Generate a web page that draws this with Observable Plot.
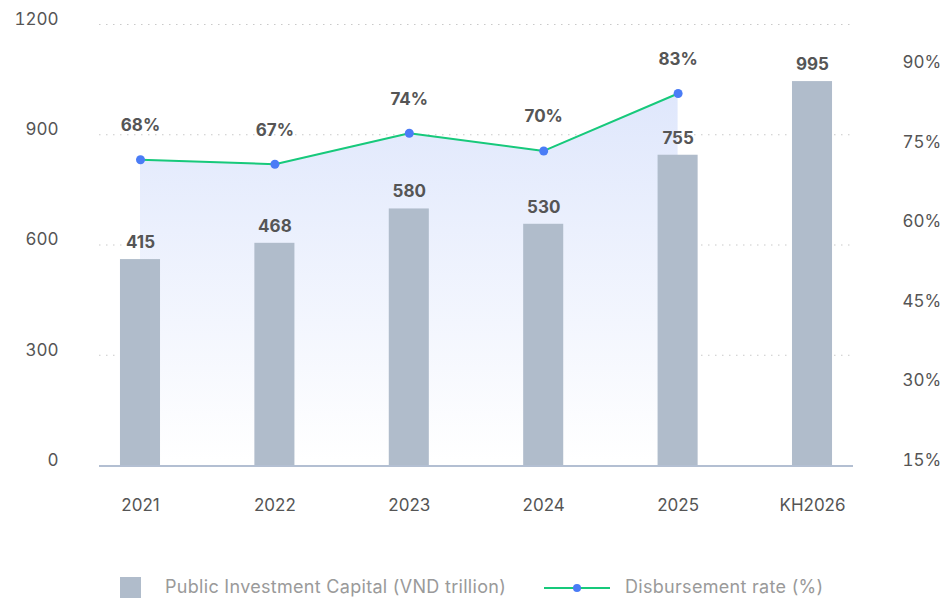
<!DOCTYPE html>
<html>
<head>
<meta charset="utf-8">
<script src="https://cdn.jsdelivr.net/npm/d3@7"></script>
<script src="https://cdn.jsdelivr.net/npm/@observablehq/plot@0.6"></script>
<style>
  body { margin: 0; background: #fff; font-family: Inter, "Noto Sans", sans-serif; }
  #chart { position: relative; width: 942px; height: 603px; overflow: hidden; }
  #chart svg.layer { position: absolute; left: 0; top: 0; }
  .legend { position: absolute; top: 576px; left: 0; width: 942px; height: 24px; font-size: 18px; letter-spacing: 0.3px; color: #9a9a9a; }
  .legend .sw { position: absolute; left: 120px; top: 1px; width: 21px; height: 21px; background: #b0bccb; }
  .legend .t1 { position: absolute; left: 165px; top: 0px; line-height: 22px; }
  .legend .ln { position: absolute; left: 544px; top: 11px; width: 66px; height: 2px; background: #17c97b; }
  .legend .dt { position: absolute; left: 573px; top: 8px; width: 8px; height: 8px; border-radius: 50%; background: #4a7cf6; }
  .legend .t2 { position: absolute; left: 625px; top: 0px; line-height: 22px; }
</style>
</head>
<body>
<div id="chart">
  <svg width="0" height="0" style="position:absolute">
    <defs>
      <linearGradient id="areaGrad" x1="0" y1="0" x2="0" y2="1">
        <stop offset="0%" stop-color="#dfe7fc"/>
        <stop offset="100%" stop-color="#ffffff"/>
      </linearGradient>
    </defs>
  </svg>
</div>
<script>
// ---- data ----
const years = ["2021", "2022", "2023", "2024", "2025", "KH2026"];
const capital = [415, 468, 580, 530, 755, 995];
const rateYears = ["2021", "2022", "2023", "2024", "2025"];
const rates = [68, 67, 74, 70, 83];
const leftTicks = [0, 300, 600, 900, 1200];
const rightTicks = [15, 30, 45, 60, 75, 90];
const legendLabels = ["Public Investment Capital (VND trillion)", "Disbursement rate (%)"];

const barData = years.map((y, i) => ({year: y, value: capital[i]}));
const rateData = rateYears.map((y, i) => ({year: y, value: rates[i]}));

// ---- shared layout ----
const W = 942, H = 540;
const font = "Inter, 'Noto Sans', sans-serif";
const base = {
  width: W, height: H,
  marginLeft: 99, marginRight: 89, marginTop: 0, marginBottom: 75,
  style: {fontFamily: font, fontSize: "17px", color: "#555", background: "transparent", overflow: "visible"}
};
const xOpt = {type: "band", domain: years, paddingInner: 0.702, paddingOuter: 0.156, round: false};

// bar scale and rate scale as drawn in the reference
const barScale = {domain: [-256, 1181], range: [465, 24]};
const rateScale = {domain: [0, 90], range: [460, 62]};

const chart = document.getElementById("chart");
function add(p) { p.classList.add("layer"); chart.appendChild(p); }

// Layer A: grid, left axis, x axis
add(Plot.plot({
  ...base,
  x: {...xOpt},
  y: {domain: [0, 1200], range: [465, 24]},
  marks: [
    Plot.ruleY(leftTicks.filter(d => d > 0), {stroke: "#c9c9c9", strokeDasharray: "1.5,5.5", strokeWidth: 1}),
    Plot.axisY({ticks: leftTicks, tickSize: 0, tickPadding: 41, dy: -5, label: null,
      tickFormat: d => String(d), fill: "#555", fontSize: 17}),
    Plot.axisX({tickSize: 0, tickPadding: 33, label: null, fill: "#555", fontSize: 17})
  ]
}));

// Layer B: gradient area under the rate line
add(Plot.plot({
  ...base,
  x: {...xOpt, axis: null},
  y: {...rateScale, axis: null},
  marks: [
    Plot.areaY(rateData, {x: "year", y1: 0, y2: "value", fill: "url(#areaGrad)"})
  ]
}));

// Layer C: bars, baseline, value labels
add(Plot.plot({
  ...base,
  x: {...xOpt, axis: null},
  y: {...barScale, axis: null},
  marks: [
    Plot.barY(barData, {x: "year", y1: barScale.domain[0], y2: "value", fill: "#b0bccb"}),
    Plot.ruleY([barScale.domain[0]], {stroke: "#b3bfd2", strokeWidth: 2, dy: 0.5}),
    Plot.text(barData, {x: "year", y: "value", text: d => String(d.value), dy: -17,
      fill: "#555", fontWeight: "bold", fontSize: 17})
  ]
}));

// Layer D: rate line, dots, labels
add(Plot.plot({
  ...base,
  x: {...xOpt, axis: null},
  y: {...rateScale, axis: null},
  marks: [
    Plot.lineY(rateData, {x: "year", y: "value", stroke: "#17c97b", strokeWidth: 2}),
    Plot.dot(rateData, {x: "year", y: "value", r: 4.5, fill: "#4a7cf6", stroke: "none"}),
    Plot.text(rateData, {x: "year", y: "value", text: d => d.value + "%", dy: -34,
      fill: "#555", fontWeight: "bold", fontSize: 17})
  ]
}));

// Layer E: right axis
add(Plot.plot({
  ...base,
  x: {...xOpt, axis: null},
  y: {domain: [15, 90], range: [460, 62], axis: null},
  marks: [
    Plot.axisY({anchor: "right", ticks: rightTicks, tickSize: 0, tickPadding: 49, label: null,
      tickFormat: d => d + "%", fill: "#555", fontSize: 17})
  ]
}));

// Legend
const lg = document.createElement("div");
lg.className = "legend";
lg.innerHTML = `<div class="sw"></div><div class="t1">${legendLabels[0]}</div>` +
  `<div class="ln"></div><div class="dt"></div><div class="t2">${legendLabels[1]}</div>`;
chart.appendChild(lg);
</script>
</body>
</html>
